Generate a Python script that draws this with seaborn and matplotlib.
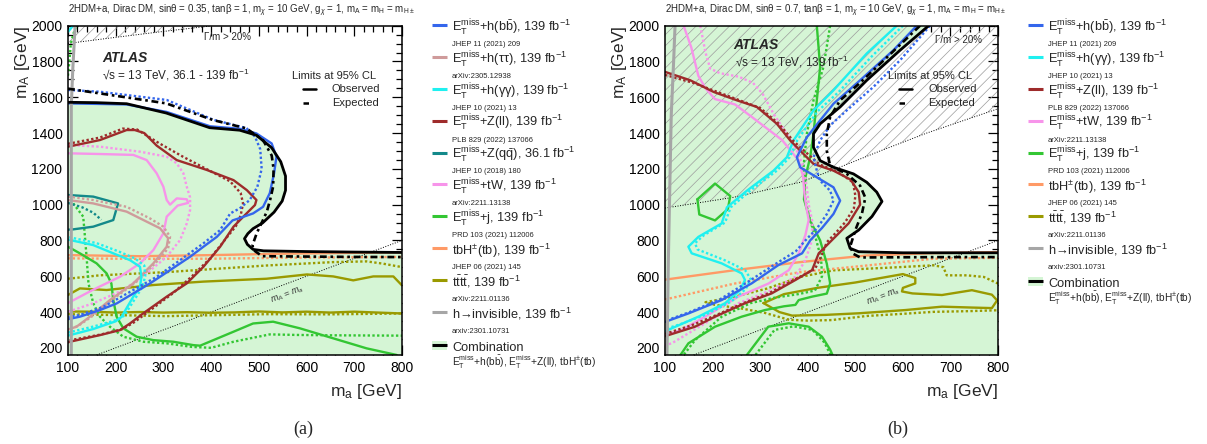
import numpy as np
import matplotlib
matplotlib.use("Agg")
import matplotlib.pyplot as plt
import seaborn as sns
from matplotlib.ticker import MultipleLocator

# ---------------------------------------------------------------------------
# Axis ranges / ticks
# ---------------------------------------------------------------------------
X_RANGE = (100, 800)
Y_RANGE = (160, 2000)
X_TICKS = [100, 200, 300, 400, 500, 600, 700, 800]
Y_TICKS = [200, 400, 600, 800, 1000, 1200, 1400, 1600, 1800, 2000]
DIAG = [160, 800]  # m_A = m_a

# ---------------------------------------------------------------------------
# Panel (a): sin(theta) = 0.35   -- contours as (m_a, m_A) in GeV
# ---------------------------------------------------------------------------
A_COMB_OBS = [(100, 1572), (160, 1570), (223, 1564), (306, 1512), (397, 1430), (460, 1416),
              (495, 1388), (527, 1318), (546, 1240), (556, 1160), (556, 1080), (549, 1020),
              (532, 958), (508, 898), (488, 866), (477, 838), (470, 810), (476, 778),
              (488, 750), (510, 742), (600, 738), (700, 735), (800, 733)]
A_COMB_EXP = [(100, 1648), (166, 1622), (306, 1566), (404, 1473), (474, 1426), (509, 1360),
              (527, 1275), (531, 1200), (530, 1100), (524, 1030), (517, 962), (507, 904),
              (496, 843), (487, 775), (488, 748), (507, 712), (600, 710), (700, 708), (800, 707)]
A_BB_OBS = [(100, 1566), (223, 1560), (307, 1518), (398, 1438), (460, 1424), (495, 1398),
            (527, 1342), (537, 1268), (532, 1175), (523, 1064), (509, 988), (488, 951),
            (460, 925), (445, 912), (412, 820), (384, 765), (356, 709), (314, 634),
            (272, 560), (237, 504), (202, 448), (167, 411), (125, 374), (100, 360)]
A_BB_EXP = [(100, 1641), (167, 1631), (307, 1585), (405, 1474), (474, 1428), (492, 1380),
            (503, 1310), (506, 1200), (497, 1100), (481, 1026), (460, 979), (440, 951),
            (419, 858), (384, 784), (335, 690), (286, 597), (237, 523), (174, 429),
            (125, 383), (100, 372)]
A_TAUTAU_OBS = [(100, 1026), (153, 1007), (223, 961), (265, 905), (293, 868), (310, 812),
                (307, 765), (279, 672), (237, 560), (188, 467), (146, 374), (118, 318), (100, 302)]
A_TAUTAU_EXP = [(100, 1045), (153, 1026), (223, 988), (272, 923), (300, 877), (314, 821),
                (310, 756), (284, 675), (242, 565), (193, 470), (150, 375), (120, 320), (100, 306)]
A_GG_OBS = [(100, 268), (153, 305), (200, 348), (212, 372), (237, 486), (251, 541), (254, 597),
            (251, 653), (230, 690), (195, 728), (153, 774), (100, 805)]
A_GG_EXP = [(100, 285), (155, 320), (205, 358), (218, 380), (242, 480), (256, 540), (262, 600),
            (260, 660), (240, 700), (205, 740), (160, 785), (100, 820)]
A_GG_TOP = [(100, 1965), (106, 1985), (110, 2000)]
A_ZLL_OBS = [(100, 1324), (167, 1361), (223, 1417), (240, 1417), (260, 1400), (286, 1330),
             (328, 1249), (391, 1194), (447, 1137), (475, 1081), (495, 1026), (492, 998),
             (471, 942), (447, 877), (419, 765), (384, 653), (349, 560), (307, 486),
             (258, 393), (230, 336), (209, 299), (167, 271), (104, 234), (100, 230)]
A_ZLL_EXP = [(100, 1340), (167, 1375), (215, 1425), (245, 1420), (290, 1345), (341, 1268),
             (404, 1180), (440, 1130), (462, 1065), (467, 1007), (462, 940), (452, 880),
             (428, 800), (398, 700), (360, 600), (320, 505), (270, 405), (240, 345),
             (215, 305), (170, 275), (100, 240)]
A_ZQQ_OBS = [(100, 1054), (153, 1045), (205, 1007), (195, 914), (153, 877), (111, 862), (100, 860)]
A_ZQQ_EXP = [(100, 1010), (130, 985), (153, 955), (170, 915)]
A_TW_OBS = [(100, 1287), (167, 1283), (237, 1278), (265, 1249), (286, 1175), (300, 1100),
            (307, 1026), (314, 1000), (328, 1035), (349, 1030), (352, 1010), (330, 995),
            (307, 933), (300, 840), (279, 746), (251, 672), (209, 597), (153, 525), (100, 450)]
A_TW_EXP = [(100, 1333), (167, 1324), (251, 1296), (307, 1268), (328, 1231), (342, 1175),
            (349, 1100), (356, 1040), (356, 970), (349, 895), (335, 802), (307, 709),
            (265, 616), (216, 523), (153, 449), (111, 411), (100, 400)]
A_J_OBS = [(100, 765), (125, 728), (160, 672), (181, 616), (191, 560), (195, 467), (202, 374),
           (216, 309), (244, 262), (279, 243), (321, 234), (363, 215), (377, 212), (447, 290),
           (488, 336), (530, 346), (586, 309), (656, 253), (726, 197), (789, 160)]
A_J_EXP = [(111, 1007), (132, 933), (135, 840), (139, 709), (143, 560), (153, 449), (167, 374),
           (188, 318), (216, 262), (258, 234), (307, 225), (360, 205), (400, 200), (447, 234),
           (482, 253), (523, 275), (579, 272), (649, 270), (800, 268)]
A_J_TOP_EXP = [(100, 1720), (103, 1800), (106, 1900), (112, 1960), (118, 2000)]
A_TBH_OBS = [(100, 718), (250, 712), (400, 718), (550, 726), (800, 734)]
A_TBH_EXP = [(100, 700), (250, 697), (400, 698), (550, 703), (800, 708)]
A_TTTT_OBS_HI = [(100, 495), (125, 532), (181, 523), (279, 551), (384, 570), (516, 586),
                 (601, 610), (656, 599), (698, 577), (740, 599), (782, 599), (800, 549)]
A_TTTT_OBS_LO = [(100, 403), (150, 402), (200, 397), (250, 400), (300, 397), (350, 399),
                 (400, 396), (450, 398), (500, 403), (550, 398), (600, 402), (650, 397),
                 (700, 402), (750, 397), (800, 392)]
A_TTTT_EXP_HI = [(100, 586), (166, 605), (306, 623), (516, 660), (656, 679), (726, 683),
                 (761, 670), (800, 651)]
A_TTTT_EXP_LO = [(100, 388), (200, 383), (306, 377), (400, 382), (516, 388), (650, 387), (800, 392)]
A_HINV = [(107, 160), (107, 1550), (110, 1750), (115, 2000)]
A_WIDTH = [(100, 1901), (200, 1935), (300, 1968), (404, 2000)]  # Gamma/m = 20% boundary

# ---------------------------------------------------------------------------
# Panel (b): sin(theta) = 0.7
# ---------------------------------------------------------------------------
B_COMB_OBS = [(654, 2000), (594, 1863), (524, 1695), (468, 1546), (426, 1452), (412, 1396),
              (412, 1321), (426, 1246), (454, 1209), (496, 1172), (524, 1125), (545, 1070),
              (556, 1018), (535, 934), (507, 858), (482, 812), (489, 756), (507, 737),
              (600, 731), (700, 731), (800, 731)]
B_COMB_EXP = [(636, 2000), (575, 1845), (512, 1686), (468, 1583), (447, 1490), (440, 1396),
              (440, 1302), (447, 1218), (482, 1172), (510, 1106), (521, 1039), (514, 952),
              (500, 858), (489, 765), (496, 725), (510, 705), (600, 706), (700, 707), (800, 707)]
B_BB_OBS = [(629, 2000), (580, 1863), (510, 1695), (454, 1564), (426, 1471), (398, 1377),
            (377, 1265), (384, 1209), (419, 1153), (454, 1097), (468, 1022), (454, 948),
            (430, 870), (405, 800), (388, 728), (338, 662), (282, 560), (219, 467),
            (149, 392), (100, 345)]
B_BB_EXP = [(657, 2000), (594, 1807), (538, 1658), (482, 1527), (447, 1443), (426, 1359),
            (412, 1265), (419, 1190), (426, 1134), (447, 1078), (454, 1022), (440, 947),
            (420, 870), (395, 800), (375, 740), (330, 665), (275, 570), (215, 470),
            (150, 398), (100, 350)]
B_GG_OBS = [(587, 2000), (524, 1845), (454, 1639), (412, 1527), (370, 1359), (356, 1265),
            (328, 1190), (272, 1078), (230, 985), (219, 895), (170, 820), (149, 765),
            (156, 728), (219, 672), (261, 616), (268, 579), (258, 523), (226, 449),
            (170, 374), (114, 309), (100, 290)]
B_GG_EXP = [(600, 2000), (535, 1830), (465, 1630), (420, 1520), (378, 1360), (362, 1265),
            (335, 1190), (280, 1080), (238, 985), (226, 900), (182, 830), (163, 785),
            (168, 750), (225, 690), (268, 635), (280, 585), (270, 530), (240, 460),
            (185, 385), (130, 330), (100, 305)]
B_ZLL_OBS = [(100, 1742), (153, 1695), (202, 1630), (251, 1583), (293, 1546), (335, 1452),
             (363, 1359), (384, 1302), (412, 1228), (454, 1190), (490, 1140), (507, 1070),
             (510, 1000), (486, 896), (458, 821), (437, 765), (423, 728), (409, 634),
             (374, 579), (324, 504), (268, 449), (205, 374), (163, 318), (107, 271), (100, 265)]
B_ZLL_EXP = [(100, 1725), (160, 1680), (250, 1590), (300, 1540), (340, 1450), (370, 1355),
             (395, 1295), (425, 1225), (465, 1180), (495, 1125), (500, 1050), (497, 980),
             (478, 900), (458, 840), (440, 790), (428, 710), (415, 640), (375, 585),
             (322, 510), (265, 450), (205, 380), (155, 325), (100, 278)]
B_TW_OBS = [(139, 2000), (155, 1880), (170, 1720), (185, 1650), (205, 1590), (247, 1560),
            (282, 1491), (346, 1361), (380, 1250), (390, 1160), (393, 1060), (397, 985),
            (402, 914), (395, 830), (381, 728), (360, 634), (318, 560), (254, 486),
            (184, 374), (135, 300), (100, 271)]
B_TW_EXP = [(174, 2000), (185, 1850), (195, 1760), (215, 1735), (255, 1715), (285, 1680),
            (305, 1620), (328, 1508), (356, 1396), (377, 1302), (391, 1209), (398, 1097),
            (402, 1000), (410, 900), (409, 802), (395, 690), (374, 597), (324, 523),
            (254, 449), (184, 337), (114, 225), (100, 215)]
B_J_RING = [(168, 1030), (205, 1118), (237, 1048), (232, 975), (205, 912), (172, 945), (168, 1030)]
B_J_OBS = [(419, 2000), (426, 1770), (419, 1583), (412, 1396), (405, 1265), (395, 1153),
           (392, 1030), (405, 911), (426, 800), (440, 670), (447, 560), (440, 503),
           (409, 486), (381, 467), (374, 440), (350, 432), (310, 411), (261, 374),
           (205, 318), (149, 225), (135, 170), (132, 160)]
B_J_DOME_OBS = [(272, 160), (317, 318), (360, 337), (402, 318), (430, 262), (447, 190), (452, 160)]
B_J_EXP = [(447, 2000), (433, 1770), (412, 1583), (398, 1396), (391, 1209), (395, 1022),
           (405, 911), (416, 820), (428, 700), (430, 600), (415, 520), (380, 500),
           (330, 480), (280, 450), (219, 374), (163, 243), (142, 170), (138, 160)]
B_J_DOME_EXP = [(290, 160), (330, 300), (370, 320), (410, 300), (435, 230), (448, 160)]
B_TBH_OBS = [(100, 581), (244, 633), (384, 679), (524, 716), (664, 729), (800, 735)]
B_TBH_EXP = [(100, 470), (244, 558), (384, 623), (524, 660), (664, 698), (800, 703)]
B_TTTT_OBS = [(307, 450), (350, 500), (420, 535), (500, 565), (600, 612), (626, 590),
              (626, 560), (600, 535), (598, 515), (620, 504), (682, 495), (745, 522),
              (787, 497), (798, 465), (787, 422), (745, 425), (682, 430), (605, 411),
              (507, 393), (437, 384), (367, 380), (340, 400), (307, 450)]
B_TTTT_EXP = [(800, 559), (770, 596), (735, 605), (692, 605), (685, 651), (664, 661),
              (594, 651), (524, 642), (454, 633), (384, 596), (314, 531), (244, 484),
              (185, 455), (205, 440), (260, 420), (310, 395), (360, 357), (400, 352),
              (450, 355), (524, 378), (600, 390), (664, 401), (740, 405), (800, 410)]
B_HINV = [(104, 160), (107, 700), (110, 1100), (113, 1500), (118, 1800), (121, 2000)]
B_WIDTH = [(100, 981), (244, 1041), (384, 1125), (454, 1195), (552, 1300), (650, 1400), (800, 1536)]

# ---------------------------------------------------------------------------
# Colours and line styles
# ---------------------------------------------------------------------------
C_BB, C_TAUTAU, C_GG, C_ZLL, C_ZQQ = "#3466ec", "#cf9b9b", "#1ff0f0", "#9e2b2b", "#13898a"
C_TW, C_J, C_TBH, C_TTTT, C_HINV = "#f794ea", "#33c633", "#ff9a66", "#9a9a00", "#a6a6a6"
C_FILL = "#d5f5d5"
C_HATCH = "#9c9c9c"
OBS = "-"
EXP = (0, (1.0, 1.0))
COMB_EXP = (0, (2.6, 1.4, 1.0, 1.4))

sns.set_theme(style="ticks")
plt.rcParams["font.family"] = ["Liberation Sans", "DejaVu Sans"]
plt.rcParams["mathtext.fontset"] = "custom"
plt.rcParams["mathtext.rm"] = "Liberation Sans"
plt.rcParams["mathtext.it"] = "Liberation Sans:italic"
plt.rcParams["mathtext.bf"] = "Liberation Sans:bold"
plt.rcParams["hatch.linewidth"] = 0.5
plt.rcParams["hatch.color"] = C_HATCH


def trace(ax, pts, color, ls=OBS, lw=1.7, z=3):
    xy = np.asarray(pts, dtype=float)
    sns.lineplot(x=xy[:, 0], y=xy[:, 1], sort=False, estimator=None, ax=ax,
                 color=color, linestyle=ls, linewidth=lw, zorder=z, legend=False)


def setup_axes(ax, title):
    ax.set_xlim(*X_RANGE)
    ax.set_ylim(*Y_RANGE)
    ax.set_xticks(X_TICKS)
    ax.set_yticks(Y_TICKS)
    ax.xaxis.set_minor_locator(MultipleLocator(20))
    ax.yaxis.set_minor_locator(MultipleLocator(50))
    ax.tick_params(which="both", direction="in", top=True, right=True, colors="black")
    ax.tick_params(which="major", length=7, width=0.9, labelsize=10, pad=4)
    ax.tick_params(which="minor", length=4, width=0.9)
    for s in ax.spines.values():
        s.set_linewidth(1.1)
        s.set_color("black")
        s.set_zorder(6)
    ax.set_xlabel(r"m$_{\mathrm{a}}$ [GeV]", fontsize=12.5, loc="right")
    ax.xaxis.set_label_coords(1.0, -0.082)
    ax.set_ylabel(r"m$_{\mathrm{A}}$ [GeV]", fontsize=12.5, loc="top")
    ax.yaxis.set_label_coords(-0.108, 1.0)
    ax.text(0.0, 1.046, title, transform=ax.transAxes, fontsize=7, ha="left", va="center")

    # inner legend for line styles
    ax.text(0.670, 0.846, "Limits at 95% CL", transform=ax.transAxes, fontsize=8, va="center")
    ax.text(0.790, 0.807, "Observed", transform=ax.transAxes, fontsize=8, va="center")
    ax.text(0.790, 0.766, "Expected", transform=ax.transAxes, fontsize=8, va="center")
    ax.plot([0.704, 0.743], [0.807, 0.807], color="black", lw=1.8, transform=ax.transAxes)
    ax.plot([0.704, 0.743], [0.766, 0.766], color="black", lw=1.8,
            linestyle=(0, (2.2, 3.0)), transform=ax.transAxes)

    # kinematic diagonal
    trace(ax, list(zip(DIAG, DIAG)), "black", ls=(0, (1, 1.6)), lw=0.7, z=2)


def width_region(ax, boundary):
    xb = [p[0] for p in boundary]
    yb = [p[1] for p in boundary]
    xs = xb + [xb[-1], xb[0]]
    ys = yb + [Y_RANGE[1], Y_RANGE[1]]
    ax.fill(xs, ys, facecolor="none", edgecolor=C_HATCH, hatch="///", linewidth=0, zorder=1.5)
    trace(ax, boundary, "black", ls=(0, (1, 1.6)), lw=0.7, z=2)


fig = plt.figure(figsize=(12.07, 4.44), dpi=100)
ax_a = fig.add_axes([0.0563, 0.2005, 0.2767, 0.7416])
ax_b = fig.add_axes([0.5510, 0.2005, 0.2759, 0.7416])

# ---------------- panel (a) ----------------
ox = [p[0] for p in A_COMB_OBS]
oy = [p[1] for p in A_COMB_OBS]
ax_a.fill([X_RANGE[0]] + ox + [X_RANGE[1]], [Y_RANGE[0]] + oy + [Y_RANGE[0]],
          color=C_FILL, linewidth=0, zorder=1)
width_region(ax_a, A_WIDTH)
setup_axes(ax_a, r"2HDM+a, Dirac DM, sinθ = 0.35, tanβ = 1, m$_{\chi}$ = 10 GeV, "
                 r"g$_{\chi}$ = 1, m$_{\mathrm{A}}$ = m$_{\mathrm{H}}$ = m$_{\mathrm{H\pm}}$")

for pts, col, ls in [
    (A_TTTT_OBS_HI, C_TTTT, OBS), (A_TTTT_OBS_LO, C_TTTT, OBS),
    (A_TTTT_EXP_HI, C_TTTT, EXP), (A_TTTT_EXP_LO, C_TTTT, EXP),
    (A_TBH_OBS, C_TBH, OBS), (A_TBH_EXP, C_TBH, EXP),
    (A_J_OBS, C_J, OBS), (A_J_EXP, C_J, EXP), (A_J_TOP_EXP, C_J, EXP),
    (A_TW_OBS, C_TW, OBS), (A_TW_EXP, C_TW, EXP),
    (A_ZQQ_OBS, C_ZQQ, OBS), (A_ZQQ_EXP, C_ZQQ, EXP),
    (A_TAUTAU_OBS, C_TAUTAU, OBS), (A_TAUTAU_EXP, C_TAUTAU, EXP),
    (A_GG_OBS, C_GG, OBS), (A_GG_EXP, C_GG, EXP), (A_GG_TOP, C_GG, OBS),
    (A_ZLL_OBS, C_ZLL, OBS), (A_ZLL_EXP, C_ZLL, EXP),
    (A_BB_OBS, C_BB, OBS), (A_BB_EXP, C_BB, EXP),
]:
    trace(ax_a, pts, col, ls)
trace(ax_a, A_HINV, C_HINV, OBS, lw=2.2)
trace(ax_a, A_COMB_EXP, "black", COMB_EXP, lw=1.9, z=4)
trace(ax_a, A_COMB_OBS, "black", OBS, lw=2.0, z=4)

ax_a.text(0.102, 0.903, "ATLAS", transform=ax_a.transAxes, fontsize=10,
          fontweight="bold", fontstyle="italic", va="center")
ax_a.text(0.102, 0.850, r"√s = 13 TeV, 36.1 - 139 fb$^{-1}$", transform=ax_a.transAxes,
          fontsize=8.5, va="center")
ax_a.text(0.407, 0.967, "Γ/m > 20%", transform=ax_a.transAxes, fontsize=7, va="center")
ax_a.text(560, 497, r"$m_{A}$ = $m_{a}$", fontsize=6.5, color="#333333",
          rotation=21, ha="center", va="center", zorder=5)

# ---------------- panel (b) ----------------
ox = [p[0] for p in B_COMB_OBS]
oy = [p[1] for p in B_COMB_OBS]
ax_b.fill([X_RANGE[0], X_RANGE[0]] + ox + [X_RANGE[1]],
          [Y_RANGE[0], Y_RANGE[1]] + oy + [Y_RANGE[0]],
          color=C_FILL, linewidth=0, zorder=1)
width_region(ax_b, B_WIDTH)
setup_axes(ax_b, r"2HDM+a, Dirac DM, sinθ = 0.7, tanβ = 1, m$_{\chi}$ = 10 GeV, "
                 r"g$_{\chi}$ = 1, m$_{\mathrm{A}}$ = m$_{\mathrm{H}}$ = m$_{\mathrm{H\pm}}$")

for pts, col, ls in [
    (B_TTTT_OBS, C_TTTT, OBS), (B_TTTT_EXP, C_TTTT, EXP),
    (B_TBH_OBS, C_TBH, OBS), (B_TBH_EXP, C_TBH, EXP),
    (B_J_RING, C_J, OBS), (B_J_OBS, C_J, OBS), (B_J_DOME_OBS, C_J, OBS),
    (B_J_EXP, C_J, EXP), (B_J_DOME_EXP, C_J, EXP),
    (B_TW_OBS, C_TW, OBS), (B_TW_EXP, C_TW, EXP),
    (B_GG_OBS, C_GG, OBS), (B_GG_EXP, C_GG, EXP),
    (B_ZLL_OBS, C_ZLL, OBS), (B_ZLL_EXP, C_ZLL, EXP),
    (B_BB_OBS, C_BB, OBS), (B_BB_EXP, C_BB, EXP),
]:
    trace(ax_b, pts, col, ls)
trace(ax_b, B_HINV, C_HINV, OBS, lw=2.2)
trace(ax_b, B_COMB_EXP, "black", COMB_EXP, lw=1.9, z=4)
trace(ax_b, B_COMB_OBS, "black", OBS, lw=2.0, z=4)

ax_b.text(0.204, 0.941, "ATLAS", transform=ax_b.transAxes, fontsize=10,
          fontweight="bold", fontstyle="italic", va="center")
ax_b.text(0.210, 0.890, r"√s = 13 TeV, 139 fb$^{-1}$", transform=ax_b.transAxes,
          fontsize=8.5, va="center")
ax_b.text(0.811, 0.957, "Γ/m > 20%", transform=ax_b.transAxes, fontsize=7, va="center")
ax_b.text(560, 487, r"$m_{A}$ = $m_{a}$", fontsize=6.5, color="#333333",
          rotation=21, ha="center", va="center", zorder=5)

# ---------------- side legends ----------------
ET = r"$\mathrm{E}_{\mathrm{T}}^{\mathrm{miss}}$"
LEG_A = [
    (ET + r"+h(b$\bar{\mathrm{b}}$), 139 fb$^{-1}$", "JHEP 11 (2021) 209", C_BB),
    (ET + r"+h(ττ), 139 fb$^{-1}$", "arXiv:2305.12938", C_TAUTAU),
    (ET + r"+h(γγ), 139 fb$^{-1}$", "JHEP 10 (2021) 13", C_GG),
    (ET + r"+Z(ll), 139 fb$^{-1}$", "PLB 829 (2022) 137066", C_ZLL),
    (ET + r"+Z(q$\bar{\mathrm{q}}$), 36.1 fb$^{-1}$", "JHEP 10 (2018) 180", C_ZQQ),
    (ET + r"+tW, 139 fb$^{-1}$", "arXiv:2211.13138", C_TW),
    (ET + r"+j, 139 fb$^{-1}$", "PRD 103 (2021) 112006", C_J),
    (r"tbH$^{\pm}$(tb), 139 fb$^{-1}$", "JHEP 06 (2021) 145", C_TBH),
    (r"t$\bar{\mathrm{t}}$t$\bar{\mathrm{t}}$, 139 fb$^{-1}$", "arXiv:2211.01136", C_TTTT),
    (r"h→invisible, 139 fb$^{-1}$", "arxiv:2301.10731", C_HINV),
]
LEG_B = [LEG_A[i] for i in (0, 2, 3, 5, 6, 7, 8, 9)]
COMB_SUB = ET + r"+h(b$\bar{\mathrm{b}}$), " + ET + r"+Z(ll), tbH$^{\pm}$(tb)"

lg = fig.add_axes([0, 0, 1, 1], zorder=10)
lg.set_xlim(0, 1207)
lg.set_ylim(444, 0)
lg.axis("off")


def side_legend(entries, x0, base0, step):
    for i, (lab, ref, col) in enumerate(entries):
        b = base0 + i * step
        lg.plot([x0, x0 + 15], [b - 6.5, b - 6.5], color=col, lw=2.2, solid_capstyle="butt")
        lg.text(x0 + 20, b, lab, fontsize=9.2, va="baseline", ha="left")
        lg.text(x0 + 20, b + 14.3, ref, fontsize=5.5, va="baseline", ha="left")
    b = base0 + len(entries) * step
    lg.add_patch(plt.Rectangle((x0, b - 10), 15, 9, facecolor=C_FILL, edgecolor="none"))
    lg.plot([x0, x0 + 15], [b - 5.5, b - 5.5], color="black", lw=2.2, solid_capstyle="butt")
    lg.text(x0 + 20, b, "Combination", fontsize=9.2, va="baseline", ha="left")
    lg.text(x0 + 20, b + 15.3, COMB_SUB, fontsize=7.3, va="baseline", ha="left")


side_legend(LEG_A, 432, 31.5, 31.9)
side_legend(LEG_B, 1028, 31.5, 31.9)

fig.text(0.251, 0.032, "(a)", fontsize=13, family="Liberation Serif", ha="center", va="center")
fig.text(0.744, 0.032, "(b)", fontsize=13, family="Liberation Serif", ha="center", va="center")

fig.savefig("out.png", dpi=100)
